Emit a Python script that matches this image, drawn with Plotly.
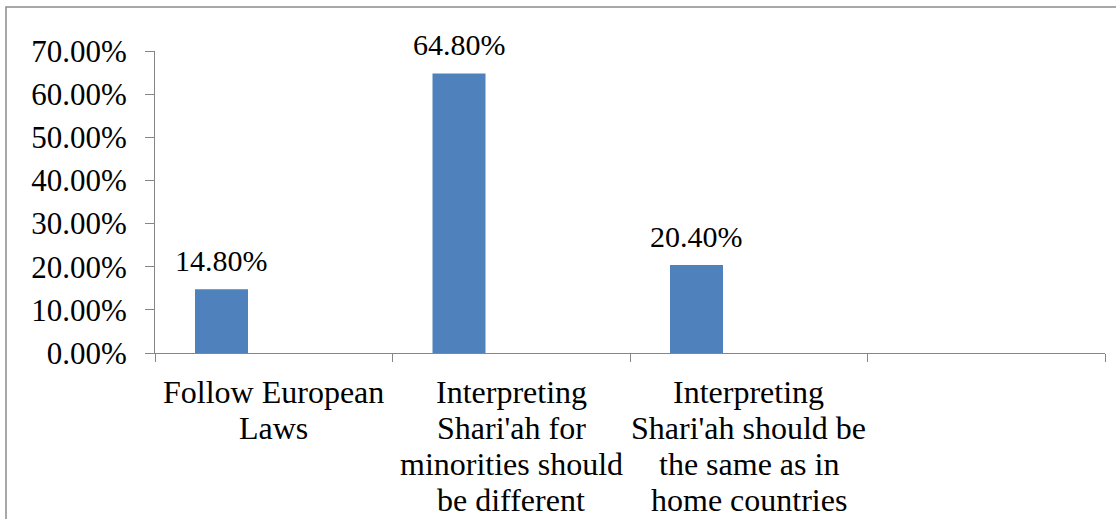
import plotly.graph_objects as go

# ---- data ----
categories = ["Follow European Laws",
              "Interpreting Shari'ah for minorities should be different",
              "Interpreting Shari'ah should be the same as in home countries",
              ""]
label_lines = [["Follow European", "Laws"],
               ["Interpreting", "Shari'ah for", "minorities should", "be different"],
               ["Interpreting", "Shari'ah should be", "the same as in", "home countries"],
               []]
values = [0.148, 0.648, 0.204]
value_labels = ["14.80%", "64.80%", "20.40%"]
y_ticks = [0, 0.1, 0.2, 0.3, 0.4, 0.5, 0.6, 0.7]

FONT = "Liberation Serif"
FS = 31
BAR = "#4F81BD"
AX = "#868686"

W, H = 1116, 519
ML, MR, MT, MB = 155, 11, 51, 166
pw, ph = W - ML - MR, H - MT - MB

xs = list(range(len(values)))
fig = go.Figure()
fig.add_trace(go.Bar(
    x=xs, y=values, width=53 / 237.5, offset=-0.5 + 40 / 237.5,
    marker=dict(color=BAR, line=dict(width=0)),
    hoverinfo="skip", showlegend=False,
))

annotations = []
for i, (v, t) in enumerate(zip(values, value_labels)):
    annotations.append(dict(
        x=i - 0.5 + 40 / 237.5 + 26.5 / 237.5, y=v, xref="x", yref="y",
        text=t, showarrow=False, yanchor="bottom", xanchor="center",
        yshift=10, font=dict(family=FONT, size=30, color="black")))

for i, lines in enumerate(label_lines):
    for j, line in enumerate(lines):
        annotations.append(dict(
            x=i, y=0, xref="x", yref="y", text=line, showarrow=False,
            xanchor="center", yanchor="top", yshift=-19 - 36.1 * j,
            font=dict(family=FONT, size=32, color="black")))

fig.update_layout(
    width=W, height=H,
    margin=dict(l=ML, r=MR, t=MT, b=MB, pad=0),
    paper_bgcolor="white", plot_bgcolor="white",
    font=dict(family=FONT, size=FS, color="black"),
    annotations=annotations,
    xaxis=dict(range=[-0.5, 3.5], tickmode="array",
               tickvals=[-0.5, 0.5, 1.5, 2.5, 3.5],
               showticklabels=False, ticks="outside", ticklen=8,
               tickcolor=AX, tickwidth=1, showline=True, linecolor=AX,
               linewidth=1, showgrid=False, zeroline=False, fixedrange=True),
    yaxis=dict(range=[0, 0.7], tickmode="array", tickvals=y_ticks,
               tickformat=".2%", ticks="outside", ticklen=9, tickcolor=AX,
               tickwidth=1, showline=True, linecolor=AX, linewidth=1,
               showgrid=False, zeroline=False, ticklabelstandoff=12,
               tickfont=dict(family=FONT, size=FS, color="black"),
               fixedrange=True),
    shapes=[dict(type="rect", xref="paper", yref="paper",
                 x0=(6 - ML) / pw, x1=(1130 - ML) / pw,
                 y0=(H - MB - 540) / ph, y1=(H - MB - 7) / ph,
                 line=dict(color="#8c8c8c", width=1.5), fillcolor="rgba(0,0,0,0)",
                 layer="below")],
)

fig.write_html("out.html", config={"displayModeBar": False})
